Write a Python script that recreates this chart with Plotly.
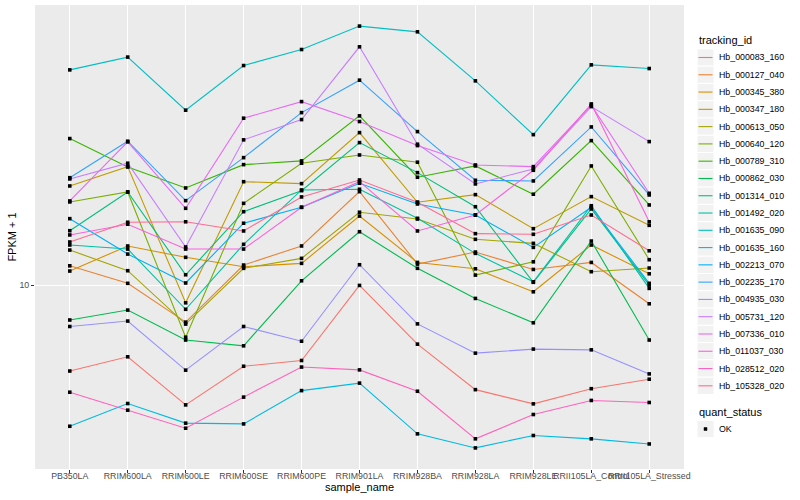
import plotly.graph_objects as go
import numpy as np

samples = ["PB350LA", "RRIM600LA", "RRIM600LE", "RRIM600SE", "RRIM600PE", "RRIM901LA",
           "RRIM928BA", "RRIM928LA", "RRIM928LE", "RRII105LA_Control", "RRII105LA_Stressed"]

genes = ["Hb_000083_160", "Hb_000127_040", "Hb_000345_380", "Hb_000347_180", "Hb_000613_050",
         "Hb_000640_120", "Hb_000789_310", "Hb_000862_030", "Hb_001314_010", "Hb_001492_020",
         "Hb_001635_090", "Hb_001635_160", "Hb_002213_070", "Hb_002235_170", "Hb_004935_030",
         "Hb_005731_120", "Hb_007336_010", "Hb_011037_030", "Hb_028512_020", "Hb_105328_020"]

colors = ["#F8766D", "#EA8331", "#D89000", "#C09B00", "#A3A500", "#7CAE00", "#39B600", "#00BB4E",
          "#00BF7D", "#00C1A3", "#00BFC4", "#00BAE0", "#00B0F6", "#35A2FF", "#9590FF", "#C77CFF",
          "#E76BF3", "#FA62DB", "#FF62BC", "#FF6C91"]

status_levels = ["OK"]

# FPKM + 1 per gene, one value per sample
Hb_000083_160 = [6.10, 6.62, 5.02, 6.27, 6.48, 9.98, 7.12, 5.48, 5.05, 5.51, 5.82]
Hb_000127_040 = [11.17, 10.10, 8.08, 11.22, 12.52, 17.11, 11.28, 12.09, 10.94, 11.39, 8.98]
Hb_000345_380 = [10.84, 12.52, 11.73, 11.11, 11.33, 14.87, 11.39, 10.98, 9.62, 12.59, 10.67]
Hb_000347_180 = [17.68, 19.76, 9.03, 18.12, 17.92, 24.03, 16.10, 16.82, 13.83, 16.63, 14.10]
Hb_000613_050 = [12.23, 10.86, 7.99, 11.01, 11.66, 15.20, 14.62, 13.01, 12.71, 10.80, 11.03]
Hb_000640_120 = [16.13, 17.08, 7.41, 16.00, 20.15, 21.13, 20.27, 10.59, 11.43, 19.84, 11.57]
Hb_000789_310 = [23.22, 19.72, 17.48, 19.99, 20.42, 26.46, 18.59, 19.84, 16.86, 22.95, 15.85]
Hb_000862_030 = [8.18, 8.66, 7.29, 7.05, 10.25, 13.59, 11.01, 9.26, 8.05, 12.88, 7.29]
Hb_001314_010 = [13.67, 17.08, 10.61, 15.25, 17.21, 22.69, 19.09, 15.69, 10.16, 15.49, 10.00]
Hb_001492_020 = [12.59, 12.30, 8.70, 12.64, 17.28, 17.35, 14.68, 12.00, 10.19, 15.78, 9.81]
Hb_001635_090 = [34.47, 37.10, 27.34, 35.34, 38.75, 44.34, 42.90, 32.36, 23.75, 35.48, 34.74]
Hb_001635_160 = [4.44, 5.06, 4.52, 4.50, 5.45, 5.69, 4.25, 3.92, 4.21, 4.13, 4.01]
Hb_002213_070 = [14.65, 11.95, 10.12, 14.27, 15.64, 17.96, 15.94, 14.96, 12.42, 15.64, 10.10]
Hb_002235_170 = [18.54, 22.87, 16.25, 20.81, 26.96, 32.49, 24.17, 18.27, 18.20, 24.83, 16.79]
Hb_004935_030 = [7.88, 8.13, 6.13, 7.88, 7.24, 11.24, 8.00, 6.76, 6.92, 6.89, 6.00]
Hb_005731_120 = [18.41, 20.15, 12.45, 23.05, 25.90, 39.36, 22.48, 17.89, 19.50, 27.91, 22.82]
Hb_007336_010 = [16.22, 22.78, 15.55, 26.11, 28.72, 25.61, 22.30, 19.95, 19.76, 28.13, 16.95]
Hb_011037_030 = [13.34, 14.19, 12.30, 12.30, 15.64, 18.12, 13.65, 14.96, 19.35, 28.34, 14.39]
Hb_028512_020 = [5.40, 4.87, 4.39, 5.25, 6.24, 6.14, 5.43, 4.13, 4.75, 5.15, 5.09]
Hb_105328_020 = [12.81, 14.35, 14.39, 13.65, 16.60, 18.30, 16.10, 13.44, 13.39, 14.96, 12.18]

series = [Hb_000083_160, Hb_000127_040, Hb_000345_380, Hb_000347_180, Hb_000613_050,
          Hb_000640_120, Hb_000789_310, Hb_000862_030, Hb_001314_010, Hb_001492_020,
          Hb_001635_090, Hb_001635_160, Hb_002213_070, Hb_002235_170, Hb_004935_030,
          Hb_005731_120, Hb_007336_010, Hb_011037_030, Hb_028512_020, Hb_105328_020]

FONT = "Liberation Sans, Arial, sans-serif"
W, H = 800, 500
ML, MR, MT, MB = 35, 116, 5, 31
PW, PH = W - ML - MR, H - MT - MB

fig = go.Figure()
for name, col, vals in zip(genes, colors, series):
    fig.add_trace(go.Scatter(x=samples, y=vals, mode="lines", name=name,
                             line=dict(color=col, width=1.1), showlegend=False,
                             hoverinfo="skip"))

all_x = [s for _ in series for s in samples]
all_y = [v for vals in series for v in vals]
fig.add_trace(go.Scatter(x=all_x, y=all_y, mode="markers", name=status_levels[0],
                         marker=dict(color="black", symbol="square", size=3.6),
                         showlegend=False, hoverinfo="skip"))

lo = np.log10(min(all_y))
hi = np.log10(max(all_y))
pad = 0.05 * (hi - lo)


# ---- legend drawn in the right-hand margin (ggplot style) ----
def fx(xp):
    return (xp - ML) / PW


def fy(yp):
    return (H - MB - yp) / PH


shapes = []
annotations = []
KEY_X0, KEY_X1, TEXT_X = 697, 714, 717
STEP = 17.28
first_c = 57.5

annotations.append(dict(text="tracking_id", x=fx(697), y=fy(40), xref="paper", yref="paper",
                        xanchor="left", yanchor="middle", showarrow=False,
                        font=dict(size=11, color="black", family=FONT)))
for i, (name, col) in enumerate(zip(genes, colors)):
    c = first_c + i * STEP
    shapes.append(dict(type="rect", xref="paper", yref="paper", x0=fx(KEY_X0), x1=fx(KEY_X1),
                       y0=fy(c - STEP / 2), y1=fy(c + STEP / 2), fillcolor="#F2F2F2",
                       line=dict(color="white", width=1), layer="above"))
    shapes.append(dict(type="line", xref="paper", yref="paper", x0=fx(KEY_X0 + 1.5),
                       x1=fx(KEY_X1 - 1.5), y0=fy(c), y1=fy(c),
                       line=dict(color=col, width=1.1), layer="above"))
    annotations.append(dict(text=name, x=fx(TEXT_X), y=fy(c), xref="paper", yref="paper",
                            xanchor="left", yanchor="middle", showarrow=False,
                            font=dict(size=8.8, color="black", family=FONT)))

annotations.append(dict(text="quant_status", x=fx(697), y=fy(412), xref="paper", yref="paper",
                        xanchor="left", yanchor="middle", showarrow=False,
                        font=dict(size=11, color="black", family=FONT)))
c = 429
shapes.append(dict(type="rect", xref="paper", yref="paper", x0=fx(KEY_X0), x1=fx(KEY_X1),
                   y0=fy(c - STEP / 2), y1=fy(c + STEP / 2), fillcolor="#F2F2F2",
                   line=dict(color="white", width=1), layer="above"))
shapes.append(dict(type="rect", xref="paper", yref="paper", x0=fx(704), x1=fx(707),
                   y0=fy(c - 1.5), y1=fy(c + 1.5), fillcolor="black",
                   line=dict(color="black", width=0.5), layer="above"))
annotations.append(dict(text=status_levels[0], x=fx(TEXT_X), y=fy(c), xref="paper", yref="paper",
                        xanchor="left", yanchor="middle", showarrow=False,
                        font=dict(size=8.8, color="black", family=FONT)))

fig.update_layout(
    width=W, height=H,
    margin=dict(l=ML, r=MR, t=MT, b=MB, autoexpand=False),
    paper_bgcolor="white", plot_bgcolor="#EBEBEB",
    font=dict(family=FONT, size=11, color="black"),
    xaxis=dict(type="category", categoryorder="array", categoryarray=samples,
               range=[-0.6, len(samples) - 0.4], showgrid=True, gridcolor="white",
               gridwidth=1.1, zeroline=False, showline=False, automargin=False,
               ticks="outside", ticklen=3, tickcolor="#333333", tickangle=0,
               ticklabelstandoff=-5,
               tickfont=dict(size=8.8, color="#4D4D4D"),
               title=dict(text="sample_name", font=dict(size=11), standoff=0)),
    yaxis=dict(type="log", range=[lo - pad, hi + pad], tickvals=[10], ticktext=["10"],
               showgrid=True, gridcolor="white", gridwidth=1.1, zeroline=False,
               showline=False, ticks="outside", ticklen=3, tickcolor="#333333",
               automargin=False,
               tickfont=dict(size=8.8, color="#4D4D4D"),
               title=dict(text="FPKM + 1", font=dict(size=11), standoff=0)),
    shapes=shapes,
    annotations=annotations,
    showlegend=False,
)

fig.write_html("out.html",
               config={"displayModeBar": False, "staticPlot": True},
               post_script="document.body.style.margin='0';document.body.style.padding='0';")
